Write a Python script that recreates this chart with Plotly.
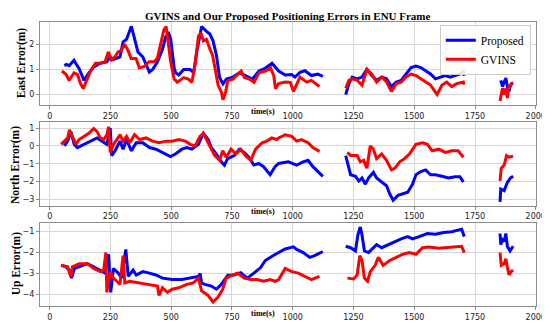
import plotly.graph_objects as go

N = None
# ---------------- East ----------------
east_t_prop = [60, 70, 80, 100, 110, 120, 141, 160, 181, 208, 235, 249, 262, 289, 302, 316, 336, 349, 363, 383,
               396, 410, 423, 443, 464, 477, 490, 498, 512, 518, 531, 551, 578, 592, 605, 619, 625, 645, 659, 672,
               686, 699, 713, 727, 754, 781, 807, 834, 861, 888, 915, 942, 969, 996, 1009, 1030, 1050, 1077, 1103, 1124,
               N,
               1218, 1231, 1245, 1265, 1285, 1305, 1325, 1345, 1366, 1386, 1406, 1426, 1446, 1466, 1487, 1507, 1527,
               1547, 1567, 1587, 1607, 1628, 1648, 1668, 1688, 1702, 1705,
               N,
               1856, 1863, 1870, 1877, 1883, 1890, 1896, 1905]
east_prop = [1.16, 1.2, 1.15, 1.37, 1.2, 1.05, 0.57, 0.85, 1.1, 1.25, 1.3, 1.5, 1.4, 1.5, 2.1, 2.2, 2.72, 2.2, 1.7, 1.5,
             1.2, 0.9, 1.0, 1.3, 1.8, 2.3, 2.43, 2.2, 1.06, 0.87, 0.78, 1.0, 1.0, 0.87, 1.7, 2.47, 2.71, 2.52, 2.41, 2.14,
             1.57, 0.68, 0.43, 0.62, 0.7, 0.87, 0.75, 0.62, 0.94, 1.06, 1.25, 0.94, 0.78, 0.8, 0.7, 0.89, 0.95, 0.76, 0.82, 0.73,
             N,
             0.0, 0.44, 0.7, 0.63, 0.7, 1.01, 0.76, 0.57, 0.7, 0.63, 0.32, 0.5, 0.57, 0.82, 1.08, 1.14, 1.08,
             0.95, 0.82, 0.63, 0.7, 0.76, 0.7, 0.76, 0.82, 0.95, 0.75,
             N,
             0.57, 0.32, 0.5, 0.66, 0.32, 0.13, 0.38, 0.44]
east_t_gvins = [50, 67, 80, 87, 100, 114, 127, 138, 151, 168, 188, 208, 228, 241, 254, 268, 281, 295, 308, 322,
                335, 355, 369, 389, 409, 429, 443, 456, 470, 479, 490, 498, 512, 525, 551, 571, 585, 598, 612, 622,
                632, 645, 659, 670, 680, 693, 706, 713, 724, 733, 754, 774, 788, 801, 821, 841, 861, 888, 909, 922,
                929, 942, 969, 990, 1003, 1030, 1057, 1077, 1097, 1110,
                N,
                1218, 1231, 1245, 1265, 1285, 1305, 1325, 1345, 1366, 1386, 1406, 1426, 1446, 1466, 1487, 1507, 1527,
                1547, 1567, 1594, 1614, 1634, 1654, 1675, 1702, 1705,
                N,
                1853, 1863, 1870, 1877, 1883, 1890, 1899, 1907]
east_gvins = [0.94, 0.81, 0.56, 0.68, 0.87, 0.81, 0.43, 0.24, 0.56, 0.94, 1.25, 1.25, 1.31, 1.7, 1.38, 1.5, 1.7, 1.76, 2.01, 1.76,
              1.44, 1.44, 1.06, 1.12, 1.31, 1.31, 1.44, 1.95, 2.59, 2.71, 1.82, 1.3, 0.62, 0.49, 0.68, 0.62, 0.49, 1.19, 2.33, 2.46,
              2.14, 2.2, 1.82, 1.57, 1.06, 0.37, 0.11, -0.2, 0.11, 0.56, 0.62, 0.81, 0.94, 0.68, 0.62, 0.49, 0.87, 0.94, 1.06, 0.75,
              0.24, 0.44, 0.5, 0.49, 0.13, 0.7, 0.5, 0.57, 0.44, 0.32,
              N,
              0.25, 0.57, 0.63, 0.57, 0.38, 1.01, 0.82, 0.5, 0.7, 0.5, 0.13, 0.44, 0.5, 0.7, 0.82, 0.76, 0.63,
              0.5, 0.38, 0.0, 0.38, 0.5, 0.32, 0.44, 0.5, 0.4,
              N,
              -0.25, 0.25, 0.0, 0.25, -0.13, 0.32, 0.44, 0.48]

# ---------------- North ----------------
north_t_prop = [60, 74, 87, 101, 114, 141, 168, 195, 215, 235, 249, 255, 269, 289, 302, 316, 336, 356, 383, 410,
                437, 464, 497, 517, 544, 564, 585, 612, 632, 652, 665, 686, 706, 719, 732, 759, 780, 800, 819, 840,
                860, 880, 907, 927, 942, 982, 1016, 1043, 1063, 1083, 1103, 1124,
                N,
                1218, 1225, 1238, 1258, 1272, 1285, 1299, 1312, 1332, 1345, 1366, 1386, 1399, 1413, 1433, 1453, 1473,
                1493, 1507, 1527, 1547, 1567, 1587, 1614, 1641, 1668, 1688, 1702,
                N,
                1853, 1856, 1870, 1883, 1896, 1907]
north_prop = [0.0, 0.27, 0.8, 0.09, -0.09, 0.09, 0.27, 0.45, 0.27, 0.09, 1.0, -0.54, -0.27, 0.27, -0.18, 0.36, -0.27, 0.18, 0.18, -0.09,
              -0.18, -0.36, -0.59, -0.45, -0.18, -0.09, -0.18, 0.09, 0.71, 0.36, -0.09, -0.45, -0.89, -1.07, -0.71, -0.54, -0.18, -0.36, -0.63, -1.07,
              -0.98, -1.16, -1.61, -1.16, -0.98, -0.89, -1.07, -0.89, -0.8, -1.16, -1.43, -1.7,
              N,
              -0.54, -0.98, -1.61, -1.7, -1.96, -1.79, -2.14, -1.79, -1.48, -1.79, -2.02, -2.23, -2.68, -3.04, -2.77, -2.68, -2.59,
              -2.14, -1.61, -1.43, -1.34, -1.61, -1.61, -1.7, -1.79, -1.73, -1.73, -2.02,
              N,
              -3.13, -2.41, -2.5, -2.05, -1.79, -1.7]
north_t_gvins = [47, 60, 74, 81, 94, 108, 121, 141, 161, 181, 195, 208, 222, 235, 242, 249, 262, 276, 289, 302,
                 316, 329, 349, 370, 396, 423, 450, 477, 504, 531, 558, 578, 598, 618, 632, 645, 659, 679, 699, 712,
                 726, 746, 766, 786, 806, 827, 847, 874, 893, 914, 934, 942, 969, 996, 1016, 1036, 1063, 1083, 1110,
                 N,
                 1225, 1238, 1265, 1278, 1292, 1305, 1319, 1332, 1345, 1366, 1386, 1406, 1420, 1440, 1460, 1480, 1507,
                 1534, 1554, 1574, 1601, 1628, 1654, 1681, 1702,
                 N,
                 1853, 1858, 1870, 1880, 1890, 1907]
north_gvins = [0.09, 0.27, 0.45, 0.9, 0.54, 0.09, 0.36, 0.54, 0.71, 0.98, 0.8, 0.45, 0.36, 0.63, 1.07, -0.36, 0.09, 0.36, 0.63, 0.27,
               0.54, 0.18, 0.63, 0.36, 0.45, 0.27, 0.18, 0.27, 0.27, 0.36, 0.27, 0.09, 0.0, 0.54, 0.71, 0.36, 0.0, -0.54, -0.8, -0.27,
               -0.63, -0.18, -0.45, -0.18, -0.54, -0.8, -0.18, 0.18, 0.27, 0.45, 0.36, 0.45, 0.63, 0.54, 0.27, 0.36, 0.18, -0.09, -0.3,
               N,
               -0.36, -0.54, -0.54, -0.89, -0.8, -1.25, 0.0, -0.18, -0.71, -0.45, -0.8, -1.34, -1.25, -0.89, -0.71, -0.45, 0.09,
               0.18, 0.09, -0.27, -0.18, -0.36, -0.27, -0.27, -0.63,
               N,
               -1.96, -1.25, -1.07, -0.54, -0.63, -0.57]

# ---------------- Up ----------------
up_t_prop = [47, 67, 81, 90, 101, 121, 155, 181, 208, 228, 242, 251, 262, 282, 296, 313, 323, 343, 356, 383,
             410, 437, 464, 504, 544, 585, 612, 619, 625, 638, 665, 686, 706, 733, 759, 786, 813, 840, 867, 887,
             907, 929, 969, 1003, 1016, 1043, 1070, 1090, 1124,
             N,
             1218, 1238, 1258, 1268, 1278, 1285, 1295, 1312, 1325, 1345, 1366, 1393, 1420, 1446, 1473, 1493, 1520,
             1554, 1587, 1621, 1654, 1681, 1695, 1706,
             N,
             1853, 1856, 1863, 1870, 1877, 1883, 1894, 1907]
up_prop = [-2.63, -2.7, -2.86, -3.24, -2.78, -2.7, -2.55, -2.7, -2.86, -3.0, -2.1, -3.92, -2.78, -3.0, -3.24, -1.87, -3.16, -2.86, -3.09, -2.93,
           -3.0, -3.09, -3.24, -3.3, -3.31, -3.24, -3.16, -3.02, -3.47, -3.54, -3.62, -3.77, -3.54, -3.1, -3.09, -2.98, -3.24, -3.0, -2.75, -2.4,
           -2.25, -2.1, -1.85, -1.75, -1.87, -2.02, -2.25, -2.17, -1.97,
           N,
           -1.72, -1.79, -1.94, -1.18, -0.8, -1.18, -1.94, -2.02, -1.87, -1.64, -1.79, -1.64, -1.49, -1.37, -1.26, -1.37, -1.26,
           -1.11, -1.15, -1.06, -1.03, -0.95, -0.91, -1.26,
           N,
           -1.11, -1.64, -1.41, -1.49, -1.11, -1.72, -1.94, -1.72]
up_t_gvins = [47, 74, 81, 87, 94, 121, 155, 181, 208, 222, 231, 235, 249, 262, 276, 289, 302, 309, 329, 370,
              410, 443, 450, 464, 484, 504, 531, 564, 591, 612, 625, 652, 672, 692, 712, 726, 753, 773, 800, 827,
              853, 880, 907, 927, 942, 969, 996, 1023, 1050, 1077, 1110,
              N,
              1225, 1251, 1265, 1276, 1285, 1295, 1308, 1319, 1339, 1352, 1372, 1399, 1426, 1453, 1480, 1507, 1534,
              1561, 1601, 1641, 1675, 1695, 1706,
              N,
              1853, 1858, 1870, 1877, 1883, 1890, 1899, 1907]
up_gvins = [-2.63, -2.7, -3.0, -3.16, -2.7, -2.55, -2.55, -2.78, -2.93, -2.86, -2.02, -3.92, -2.93, -3.24, -3.39, -3.54, -2.17, -3.47, -3.39, -3.47,
            -3.54, -3.62, -4.07, -3.7, -3.92, -3.77, -3.7, -3.54, -3.47, -3.24, -3.85, -4.07, -4.38, -4.15, -3.77, -3.24, -3.09, -3.0, -3.24, -3.31,
            -3.31, -3.39, -3.31, -3.39, -3.31, -2.78, -2.93, -3.0, -3.16, -3.31, -3.16,
            N,
            -3.24, -3.28, -3.09, -2.17, -2.4, -3.24, -3.39, -2.93, -2.63, -2.25, -2.63, -2.4, -2.25, -2.1, -2.02, -2.1, -1.79,
            -1.76, -1.82, -1.79, -1.76, -1.72, -2.02,
            N,
            -2.02, -2.63, -2.55, -2.32, -2.7, -3.09, -2.93, -2.86]

x_ticks = [0, 250, 500, 750, 1000, 1250, 1500, 1750, 2000]
east_ticks = [0, 1, 2]
north_ticks = [1, 0, -1, -2, -3]
up_ticks = [-1, -2, -3, -4]

BLUE = "#0000ff"
RED = "#ff0000"
SERIF = "Liberation Serif"
SANS = "DejaVu Sans"

fig = go.Figure()
panels = [
    (east_t_prop, east_prop, east_t_gvins, east_gvins, "x", "y"),
    (north_t_prop, north_prop, north_t_gvins, north_gvins, "x2", "y2"),
    (up_t_prop, up_prop, up_t_gvins, up_gvins, "x3", "y3"),
]
for i, (tp, vp, tg, vg, xa, ya) in enumerate(panels):
    fig.add_trace(go.Scatter(x=tp, y=vp, mode="lines", name="Proposed", line=dict(color=BLUE, width=3),
                             xaxis=xa, yaxis=ya, showlegend=(i == 0), connectgaps=False))
    fig.add_trace(go.Scatter(x=tg, y=vg, mode="lines", name="GVINS", line=dict(color=RED, width=3),
                             xaxis=xa, yaxis=ya, showlegend=(i == 0), connectgaps=False))

axis_common = dict(showgrid=True, gridcolor="#d6d6d6", gridwidth=1, zeroline=False,
                   showline=True, linecolor="#8c8c8c", linewidth=1, mirror=True,
                   ticks="outside", ticklen=3, tickcolor="#8c8c8c",
                   tickfont=dict(family=SANS, size=8, color="#222"))
xcommon = dict(axis_common, range=[-40, 2001], tickvals=x_ticks, ticktext=[str(v) for v in x_ticks])

fig.update_layout(
    width=550, height=326,
    margin=dict(l=32, r=13, t=14, b=15),
    plot_bgcolor="white", paper_bgcolor="white",
    xaxis=dict(xcommon, anchor="y", domain=[0, 1]),
    yaxis=dict(axis_common, anchor="x", domain=[0.707, 1], range=[-0.42, 2.89], tickvals=east_ticks),
    xaxis2=dict(xcommon, anchor="y2", domain=[0, 1]),
    yaxis2=dict(axis_common, anchor="x2", domain=[0.3535, 0.649], range=[-3.34, 1.36], tickvals=north_ticks),
    xaxis3=dict(xcommon, anchor="y3", domain=[0, 1]),
    yaxis3=dict(axis_common, anchor="x3", domain=[0, 0.293], range=[-4.57, -0.60], tickvals=up_ticks),
    legend=dict(x=0.9895, y=0.99, xanchor="right", yanchor="top",
                bgcolor="rgba(255,255,255,0.9)", bordercolor="#cccccc", borderwidth=1,
                font=dict(family=SERIF, size=11.5, color="black"), tracegroupgap=0,
                itemwidth=30),
    showlegend=True,
)

annots = [
    dict(text="<b>GVINS and Our Proposed Positioning Errors in ENU Frame</b>", x=0.5, y=1.0226,
         font=dict(family=SERIF, size=11, color="black")),
    dict(text="<b>time(s)</b>", x=0.449, y=0.6835, font=dict(family=SERIF, size=8, color="black")),
    dict(text="<b>time(s)</b>", x=0.449, y=0.3333, font=dict(family=SERIF, size=8, color="black")),
    dict(text="<b>time(s)</b>", x=0.449, y=-0.0269, font=dict(family=SERIF, size=8, color="black")),
    dict(text="<b>East Error(m)</b>", x=-0.0356, y=0.856, textangle=-90, font=dict(family=SERIF, size=11.5, color="black")),
    dict(text="<b>North Error(m)</b>", x=-0.048, y=0.497, textangle=-90, font=dict(family=SERIF, size=11.5, color="black")),
    dict(text="<b>Up Error(m)</b>", x=-0.047, y=0.149, textangle=-90, font=dict(family=SERIF, size=11.5, color="black")),
]
for a in annots:
    fig.add_annotation(xref="paper", yref="paper", showarrow=False, xanchor="center", yanchor="middle", **a)

fig.write_html("out.html")
